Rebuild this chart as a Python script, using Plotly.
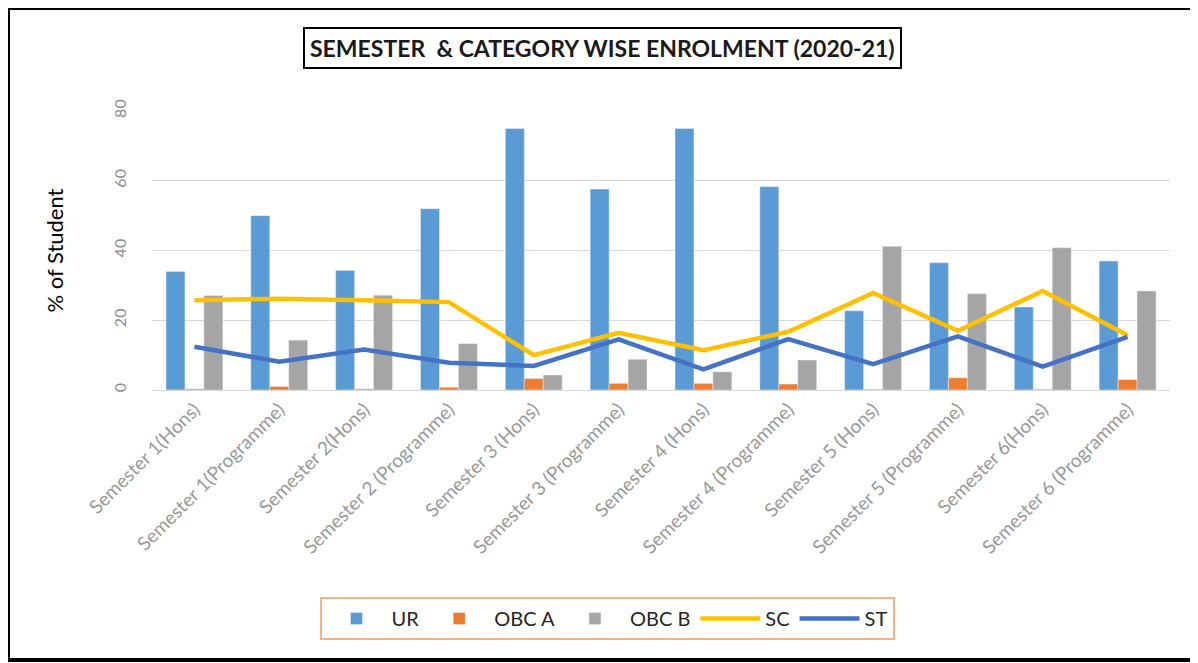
import plotly.graph_objects as go

# categories (x axis)
semesters = [
    "Semester 1(Hons)", "Semester 1(Programme)", "Semester 2(Hons)",
    "Semester 2 (Programme)", "Semester 3 (Hons)", "Semester 3 (Programme)",
    "Semester 4 (Hons)", "Semester 4 (Programme)", "Semester 5 (Hons)",
    "Semester 5 (Programme)", "Semester 6(Hons)", "Semester 6 (Programme)",
]

# % of students per category
ur = [34, 50, 34.3, 52, 75, 57.6, 75, 58.3, 22.7, 36.5, 23.8, 37]
obc_a = [0.3, 1, 0.3, 0.8, 3.3, 1.9, 1.9, 1.7, 0.2, 3.5, 0.2, 3.0]
obc_b = [27.1, 14.3, 27.2, 13.3, 4.3, 8.8, 5.2, 8.6, 41.2, 27.6, 40.8, 28.4]
sc = [25.7, 26.2, 25.7, 25.2, 10, 16.4, 11.4, 16.7, 27.8, 17, 28.4, 15.7]
st = [12.4, 8.1, 11.6, 7.8, 6.9, 14.5, 5.9, 14.6, 7.4, 15.4, 6.7, 15.2]

FONT = "Lato"

fig = go.Figure()
fig.add_trace(go.Bar(x=semesters, y=ur, name="UR", marker_color="#5B9BD5"))
fig.add_trace(go.Bar(x=semesters, y=obc_a, name="OBC A", marker_color="#ED7D31"))
fig.add_trace(go.Bar(x=semesters, y=obc_b, name="OBC B", marker_color="#A5A5A5"))
fig.add_trace(go.Scatter(x=semesters, y=sc, name="SC", mode="lines",
                         line=dict(color="#FFC000", width=4.5)))
fig.add_trace(go.Scatter(x=semesters, y=st, name="ST", mode="lines",
                         line=dict(color="#4472C4", width=4.5)))

# page body adds an 8px offset, so the figure is 8px smaller than the window
OFF = 8
W, H = 1198 - OFF, 663 - OFF
# plot area in window pixels: x 152..1170, y 111..390
L, T = 152 - OFF, 111 - OFF
R, B = W - (1170 - OFF), H - (390 - OFF)
pw, ph = W - L - R, H - T - B


def px(x):
    return (x - OFF - L) / pw


def py(y):
    return (T + ph - (y - OFF)) / ph


fig.update_layout(
    width=W, height=H,
    margin=dict(l=L, r=R, t=T, b=B),
    paper_bgcolor="white", plot_bgcolor="white",
    font=dict(family=FONT),
    barmode="group", bargap=0.33, bargroupgap=0,
    showlegend=True,
    legend=dict(
        orientation="h", xanchor="center", yanchor="top",
        x=px(607), y=py(597),
        bordercolor="#F4B183", borderwidth=2,
        font=dict(size=20, color="#262626", family=FONT),
        itemwidth=60, tracegroupgap=0,
    ),
    xaxis=dict(
        tickangle=-45, showgrid=False,
        showline=True, linecolor="#D9D9D9", linewidth=1,
        tickfont=dict(size=19, color="#999999", family=FONT),
    ),
    yaxis=dict(
        range=[0, 80], dtick=20, tickangle=-90,
        gridcolor="#D9D9D9", gridwidth=1, zeroline=False,
        showline=False,
        ticklabelstandoff=22,
        tickfont=dict(size=16, color="#8C8C8C", family=FONT),
        title=dict(text="% of Student", font=dict(size=22, color="black", family=FONT),
                   standoff=40),
    ),
    annotations=[dict(
        text="<b>SEMESTER  & CATEGORY WISE ENROLMENT (2020-21)</b>",
        xref="paper", yref="paper", x=px(602), y=py(48),
        xanchor="center", yanchor="middle", showarrow=False,
        font=dict(size=23, color="#1a1a1a", family=FONT),
        bordercolor="black", borderwidth=2, borderpad=5, bgcolor="white",
    )],
    shapes=[dict(
        type="rect", xref="paper", yref="paper",
        x0=px(8), x1=px(1195), y0=py(660), y1=py(8),
        line=dict(color="black", width=4),
    )],
)

fig.write_html("out.html")
